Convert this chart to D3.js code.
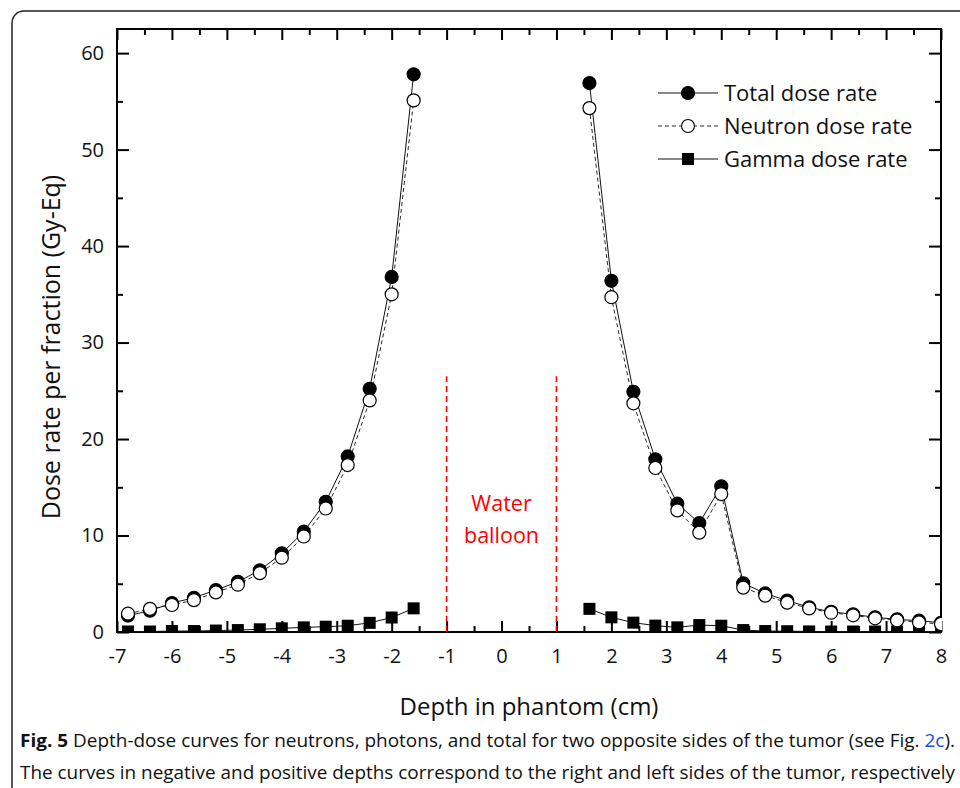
<!DOCTYPE html>
<html>
<head>
<meta charset="utf-8">
<script src="https://cdn.jsdelivr.net/npm/d3@7"></script>
<style>
  body { margin: 0; background: #fff; }
  svg text { font-family: "Open Sans", "Noto Sans", sans-serif; fill: #111; }
</style>
</head>
<body>
<div class="view1"></div>
<script>
// Depth positions (cm) for the two sides of the tumor
const depthLeft = [-6.8, -6.4, -6.0, -5.6, -5.2, -4.8, -4.4, -4.0, -3.6, -3.2, -2.8, -2.4, -2.0, -1.6];
const depthRight = [1.6, 2.0, 2.4, 2.8, 3.2, 3.6, 4.0, 4.4, 4.8, 5.2, 5.6, 6.0, 6.4, 6.8, 7.2, 7.6, 8.0];

// Dose rates (Gy-Eq)
const totalLeft = [1.7, 2.2, 3.0, 3.55, 4.35, 5.2, 6.4, 8.15, 10.4, 13.5, 18.2, 25.2, 36.8, 57.8];
const neutronLeft = [1.9, 2.4, 2.8, 3.3, 4.1, 4.9, 6.1, 7.7, 9.9, 12.8, 17.3, 24.0, 35.0, 55.1];
const gammaLeft = [0.05, 0.05, 0.1, 0.1, 0.15, 0.2, 0.28, 0.38, 0.48, 0.55, 0.65, 0.95, 1.5, 2.45];

const totalRight = [56.9, 36.4, 24.9, 17.9, 13.3, 11.3, 15.1, 5.05, 4.0, 3.25, 2.56, 2.1, 1.83, 1.52, 1.31, 1.17, 0.96];
const neutronRight = [54.3, 34.7, 23.7, 17.0, 12.6, 10.3, 14.3, 4.6, 3.77, 3.04, 2.45, 2.0, 1.73, 1.42, 1.2, 1.0, 0.83];
const gammaRight = [2.4, 1.52, 0.97, 0.66, 0.48, 0.72, 0.65, 0.2, 0.1, 0.08, 0.06, 0.05, 0.05, 0.05, 0.05, 0.05, 0.05];

// Tick labels
const xTicks = [-7, -6, -5, -4, -3, -2, -1, 0, 1, 2, 3, 4, 5, 6, 7, 8];
const yTicks = [0, 10, 20, 30, 40, 50, 60];
const xMinor = d3.range(-6.5, 8, 1);
const yMinor = [5, 15, 25, 35, 45, 55];

// Water balloon boundaries
const balloonEdges = [-1, 1];
const balloonTop = 26.5;

const legendNames = ["Total dose rate", "Neutron dose rate", "Gamma dose rate"];

const W = 960, H = 788;
const svg = d3.select(".view1").append("svg")
    .attr("width", W)
    .attr("height", H);

// outer rounded box of the figure
svg.append("rect")
    .attr("x", 12).attr("y", 11)
    .attr("width", 1000).attr("height", 1000)
    .attr("rx", 12)
    .attr("fill", "none")
    .attr("stroke", "#222")
    .attr("stroke-width", 1.5);

const x = d3.scaleLinear().domain([-7, 8]).range([117, 941]);
const y = d3.scaleLinear().domain([0, 62.5]).range([632, 29]);

// frame
svg.append("rect")
    .attr("x", x(-7)).attr("y", y(62.5))
    .attr("width", x(8) - x(-7)).attr("height", y(0) - y(62.5))
    .attr("fill", "none").attr("stroke", "#000").attr("stroke-width", 2);

// axes, ticks pointing inwards
function styleAxis(g) {
    g.select(".domain").remove();
    g.selectAll(".tick line").attr("stroke", "#000").attr("stroke-width", 2);
    g.selectAll("text").attr("font-size", 20).attr("fill", "#111");
}
// plain hyphen for negatives, like the original
const fmt = d => String(d);

svg.append("g").attr("transform", `translate(0,${y(0)})`)
    .call(d3.axisBottom(x).tickValues(xTicks).tickSize(-11).tickPadding(17).tickFormat(fmt))
    .call(styleAxis);
svg.append("g").attr("transform", `translate(0,${y(0)})`)
    .call(d3.axisBottom(x).tickValues(xMinor).tickSize(-6).tickFormat(""))
    .call(styleAxis);
svg.append("g").attr("transform", `translate(0,${y(62.5)})`)
    .call(d3.axisTop(x).tickValues(xTicks).tickSize(-11).tickFormat(""))
    .call(styleAxis);
svg.append("g").attr("transform", `translate(0,${y(62.5)})`)
    .call(d3.axisTop(x).tickValues(xMinor).tickSize(-6).tickFormat(""))
    .call(styleAxis);

svg.append("g").attr("transform", `translate(${x(-7)},0)`)
    .call(d3.axisLeft(y).tickValues(yTicks).tickSize(-12).tickPadding(13).tickFormat(fmt))
    .call(styleAxis);
svg.append("g").attr("transform", `translate(${x(-7)},0)`)
    .call(d3.axisLeft(y).tickValues(yMinor).tickSize(-6).tickFormat(""))
    .call(styleAxis);
svg.append("g").attr("transform", `translate(${x(8)},0)`)
    .call(d3.axisRight(y).tickValues(yTicks).tickSize(-12).tickFormat(""))
    .call(styleAxis);
svg.append("g").attr("transform", `translate(${x(8)},0)`)
    .call(d3.axisRight(y).tickValues(yMinor).tickSize(-6).tickFormat(""))
    .call(styleAxis);

// axis titles
svg.append("text")
    .attr("x", 529).attr("y", 715)
    .attr("text-anchor", "middle")
    .attr("font-size", 24)
    .text("Depth in phantom (cm)");
svg.append("text")
    .attr("transform", "translate(60,347) rotate(-90)")
    .attr("text-anchor", "middle")
    .attr("font-size", 25)
    .text("Dose rate per fraction (Gy-Eq)");

// water balloon markers
svg.selectAll(".balloon")
    .data(balloonEdges)
    .enter().append("line")
    .attr("x1", d => x(d)).attr("x2", d => x(d))
    .attr("y1", y(0)).attr("y2", y(balloonTop))
    .attr("stroke", "#ff0000")
    .attr("stroke-width", 1.6)
    .attr("stroke-dasharray", "6,4");
svg.append("text")
    .attr("x", x(0)).attr("y", 511)
    .attr("text-anchor", "middle").attr("font-size", 21.5)
    .style("fill", "#ff0000")
    .text("Water");
svg.append("text")
    .attr("x", x(0)).attr("y", 543)
    .attr("text-anchor", "middle").attr("font-size", 21.5)
    .style("fill", "#ff0000")
    .text("balloon");

// build the series pieces
function pts(xs, ys) { return xs.map((d, i) => ({x: d, y: ys[i]})); }
const series = [
    {kind: "total", parts: [pts(depthLeft, totalLeft), pts(depthRight, totalRight)]},
    {kind: "gamma", parts: [pts(depthLeft, gammaLeft), pts(depthRight, gammaRight)]},
    {kind: "neutron", parts: [pts(depthLeft, neutronLeft), pts(depthRight, neutronRight)]}
];

const line = d3.line().x(d => x(d.x)).y(d => y(d.y));

series.forEach(s => {
    s.parts.forEach(p => {
        svg.append("path")
            .attr("d", line(p))
            .attr("fill", "none")
            .attr("stroke", "#111")
            .attr("stroke-width", s.kind === "neutron" ? 0.9 : 1)
            .attr("stroke-dasharray", s.kind === "neutron" ? "4,3" : null);
    });
});

function drawMarker(g, kind, cx, cy) {
    if (kind === "gamma") {
        g.append("rect")
            .attr("x", cx - 6).attr("y", cy - 6)
            .attr("width", 12).attr("height", 12)
            .attr("fill", "#000");
    } else {
        g.append("circle")
            .attr("cx", cx).attr("cy", cy).attr("r", 6.5)
            .attr("fill", kind === "total" ? "#000" : "#fff")
            .attr("stroke", "#000").attr("stroke-width", 1.2);
    }
}

// markers: totals first so open neutron circles sit on top
svg.append("clipPath").attr("id", "plotclip")
    .append("rect").attr("x", 0).attr("y", 0).attr("width", x(8) + 1).attr("height", y(0) + 1);
const markLayer = svg.append("g").attr("clip-path", "url(#plotclip)");
["gamma", "total", "neutron"].forEach(k => {
    const s = series.find(d => d.kind === k);
    s.parts.forEach(p => p.forEach(d => drawMarker(markLayer, k, x(d.x), y(d.y))));
});

// legend
const legendKinds = ["total", "neutron", "gamma"];
legendKinds.forEach((k, i) => {
    const ly = 93 + i * 33;
    svg.append("line")
        .attr("x1", 658).attr("x2", 718).attr("y1", ly).attr("y2", ly)
        .attr("stroke", "#111")
        .attr("stroke-width", k === "neutron" ? 0.9 : 1)
        .attr("stroke-dasharray", k === "neutron" ? "4,3" : null);
    drawMarker(svg, k, 688, ly);
    svg.append("text")
        .attr("x", 724).attr("y", ly + 8)
        .attr("font-size", 22)
        .text(legendNames[i]);
});

// caption
const cap1 = svg.append("text").attr("x", 20).attr("y", 747).attr("font-size", 17.5)
    .attr("textLength", 935).attr("lengthAdjust", "spacingAndGlyphs");
cap1.append("tspan").attr("font-weight", "bold").text("Fig. 5");
cap1.append("tspan").text(" Depth-dose curves for neutrons, photons, and total for two opposite sides of the tumor (see Fig. ");
cap1.append("tspan").style("fill", "#1a4fd6").text("2c");
cap1.append("tspan").text(").");
svg.append("text").attr("x", 20).attr("y", 779).attr("font-size", 17.5)
    .attr("textLength", 935).attr("lengthAdjust", "spacingAndGlyphs")
    .text("The curves in negative and positive depths correspond to the right and left sides of the tumor, respectively");
</script>
</body>
</html>
